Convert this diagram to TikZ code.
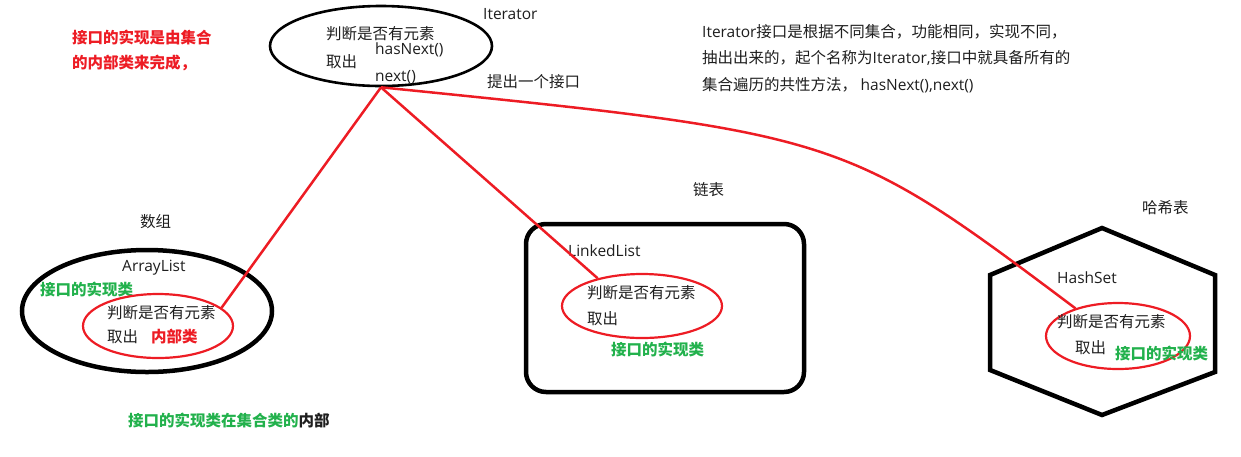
\documentclass[tikz,border=0pt]{standalone}
\usepackage{fontspec}
\setmainfont{Noto Sans CJK SC}
\newfontfamily\latinfont{Open Sans}
\usepackage{tikz}
\usetikzlibrary{shapes.geometric}

\definecolor{paintred}{RGB}{237,28,36}
\definecolor{paintgreen}{RGB}{34,177,76}
\definecolor{inkgray}{RGB}{30,30,30}

\newcommand{\en}[1]{{\latinfont #1}}

\begin{document}
\begin{tikzpicture}[x=1pt, y=-1pt,
  every node/.style={font=\fontsize{15.5}{18}\selectfont, text=inkgray, inner sep=0pt},
  lbl/.style={anchor=west},
  note/.style={anchor=west, font=\fontsize{15.5}{18}\selectfont\bfseries, text=paintred},
  impl/.style={anchor=west, font=\fontsize{15.5}{18}\selectfont\bfseries, text=paintgreen},
  blackring/.style={draw=black, ellipse, line width=4.5pt},
  redring/.style={draw=paintred, ellipse, line width=2.2pt},
  link/.style={draw=paintred, line width=2.5pt}]

\useasboundingbox (0,0) rectangle (1241,456);

% --- Iterator interface (top) ---
\node[draw, ellipse, line width=2.6pt, minimum width=222pt, minimum height=80pt] (iter) at (381,46) {};
\node[lbl] (iterHas) at (326,34) {判断是否有元素};
\node[lbl] (iterHasNext) at (375,50) {\en{hasNext()}};
\node[lbl] (iterTake) at (326,62) {取出};
\node[lbl] (iterNext) at (375,77) {\en{next()}};
\node[lbl] (iterName) at (483,14) {\en{Iterator}};
\node[lbl] (extract) at (487,82) {提出一个接口};

% Notes
\node[note] (noteA) at (72,37) {接口的实现是由集合};
\node[note] (noteB) at (72,63) {的内部类来完成，};

\node[lbl] (descA) at (702,32) {\en{Iterator}接口是根据不同集合，功能相同，实现不同，};
\node[lbl] (descB) at (702,58) {抽出出来的，起个名称为\en{Iterator,}接口中就具备所有的};
\node[lbl] (descC) at (702,85) {集合遍历的共性方法， \en{hasNext(),next()}};

% --- ArrayList ---
\node[lbl] (arrTitle) at (140,222) {数组};
\node[blackring, minimum width=250pt, minimum height=122pt] (arr) at (147,311) {};
\node[lbl] (arrName) at (122,268) {\en{ArrayList}};
\node[impl] (arrImpl) at (40,289) {接口的实现类};
\node[redring, minimum width=150pt, minimum height=64pt] (arrIn) at (158,326) {};
\node[lbl] (arrHas) at (107,313) {判断是否有元素};
\node[lbl] (arrTake) at (107,337) {取出};
\node[note] (arrInner) at (151,337) {内部类};
\node[impl] (arrWhere) at (128,420) {接口的实现类在集合类的\textcolor{inkgray}{内部}};

% --- LinkedList ---
\node[lbl] (lnkTitle) at (693,190) {链表};
\node[draw, line width=4.5pt, rounded corners=20pt, minimum width=278pt, minimum height=168pt] (lnk) at (665,308) {};
\node[lbl] (lnkName) at (568,251) {\en{LinkedList}};
\node[redring, minimum width=160pt, minimum height=64pt] (lnkIn) at (642,306) {};
\node[lbl] (lnkHas) at (587,293) {判断是否有元素};
\node[lbl] (lnkTake) at (587,319) {取出};
\node[impl] (lnkImpl) at (611,349) {接口的实现类};

% --- HashSet ---
\node[lbl] (hshTitle) at (1142,208) {哈希表};
\draw[line width=4.5pt] (1102,228) -- (1215,275) -- (1215,372) -- (1102,415) -- (990,370) -- (990,275) -- cycle;
\node[lbl] (hshName) at (1057,278) {\en{HashSet}};
\node[redring, minimum width=144pt, minimum height=66pt] (hshIn) at (1118,336) {};
\node[lbl] (hshHas) at (1057,322) {判断是否有元素};
\node[lbl] (hshTake) at (1075,348) {取出};
\node[impl] (hshImpl) at (1115,353) {接口的实现类};

% Implementations point back to the interface
\draw[link] (iter.south) -- (arrIn.16);
\draw[link] (iter.south) -- (lnkIn.148);
\draw[link] (iter.south) .. controls (843,134) .. (hshIn.147);

\end{tikzpicture}
\end{document}
